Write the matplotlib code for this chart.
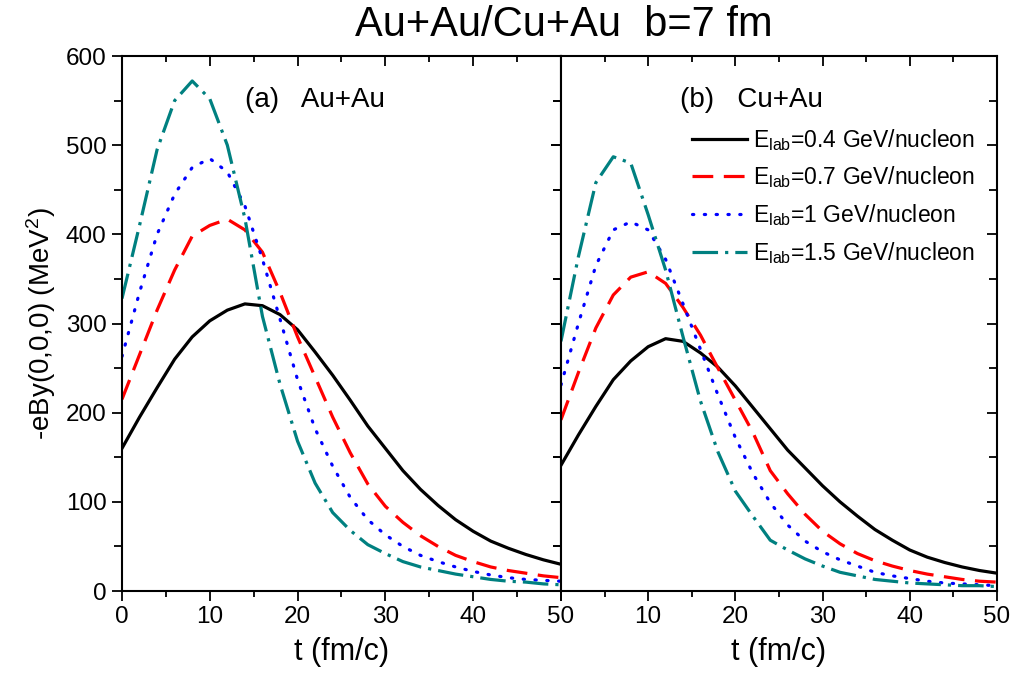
import matplotlib
matplotlib.use("Agg")
from matplotlib import pyplot as plt
from matplotlib.ticker import MultipleLocator

plt.rcParams['font.family'] = ['Liberation Sans', 'DejaVu Sans']
plt.rcParams['mathtext.default'] = 'regular'

t = [0, 2, 4, 6, 8, 10, 12, 14, 16, 18, 20, 22, 24, 26, 28, 30, 32, 34, 36, 38, 40, 42, 44, 46, 48, 50]

# Au+Au
auau_04 = [160, 195, 228, 260, 285, 303, 315, 322, 320, 310, 293, 268, 242, 214, 185, 160, 135, 114, 96, 80, 67, 56, 48, 41, 35, 30]
auau_07 = [215, 265, 315, 360, 398, 410, 417, 405, 380, 335, 285, 240, 195, 155, 120, 95, 77, 62, 50, 40, 33, 27, 23, 20, 17, 15]
auau_10 = [263, 335, 400, 445, 475, 485, 470, 432, 372, 305, 237, 182, 140, 105, 80, 63, 50, 40, 33, 27, 22, 18, 15, 13, 12, 11]
auau_15 = [328, 410, 495, 550, 572, 552, 500, 418, 308, 232, 168, 121, 88, 68, 52, 42, 33, 27, 23, 19, 16, 13, 11, 10, 8, 7]

# Cu+Au
cuau_04 = [141, 175, 207, 237, 258, 274, 283, 280, 267, 251, 230, 206, 182, 158, 138, 118, 100, 84, 69, 57, 46, 38, 32, 27, 23, 20]
cuau_07 = [192, 245, 295, 332, 352, 358, 345, 318, 287, 250, 214, 178, 135, 109, 86, 67, 53, 42, 34, 28, 23, 19, 16, 13, 11, 10]
cuau_10 = [231, 300, 365, 405, 414, 405, 372, 322, 271, 220, 172, 132, 99, 74, 56, 44, 35, 28, 21, 17, 14, 11, 9, 8, 7, 6]
cuau_15 = [280, 375, 458, 487, 480, 422, 360, 285, 213, 156, 112, 84, 57, 46, 36, 28, 21, 17, 13, 11, 9, 8, 7, 6, 6, 5]

labels = [r'E$_{lab}$=0.4 GeV/nucleon', r'E$_{lab}$=0.7 GeV/nucleon',
          r'E$_{lab}$=1 GeV/nucleon', r'E$_{lab}$=1.5 GeV/nucleon']
xticks = [0, 10, 20, 30, 40, 50]
styles = [
    dict(color='black', ls='-'),
    dict(color='#ff0000', ls=(0, (6.5, 3.3))),
    dict(color='#0000ff', ls=(0, (0.4, 3.3)), dash_capstyle='round'),
    dict(color='#008080', ls=(0, (8, 2.2, 1, 2.2))),
]

fig = plt.figure(figsize=(10.19, 6.74), dpi=100)
ax1 = fig.add_axes([0.1197, 0.1231, 0.4308, 0.7938])
ax2 = fig.add_axes([0.5505, 0.1231, 0.4279, 0.7938])

for ax, series in ((ax1, [auau_04, auau_07, auau_10, auau_15]),
                   (ax2, [cuau_04, cuau_07, cuau_10, cuau_15])):
    for y, lab, st in zip(series, labels, styles):
        ax.plot(t, y, lw=2.3, label=lab, **st)
    ax.set_xlim(0, 50)
    ax.set_ylim(0, 600)
    ax.set_xticks(xticks)
    ax.xaxis.set_minor_locator(MultipleLocator(5))
    ax.yaxis.set_major_locator(MultipleLocator(100))
    ax.yaxis.set_minor_locator(MultipleLocator(50))
    # origin style: outward on bottom/left, inward on top/right
    ax.tick_params(which='both', bottom=True, left=True, top=True, right=True,
                   direction='out', width=1.3)
    ax.tick_params(which='major', length=7, labelsize=17.5, pad=4)
    ax.tick_params(axis='x', which='minor', length=4)
    ax.tick_params(axis='y', which='minor', length=6)
    for s in ax.spines.values():
        s.set_linewidth(1.5)
    ax.set_xlabel('t (fm/c)', fontsize=22, labelpad=6)

# secondary ticks point inward
for ax in (ax1, ax2):
    for tk in ax.xaxis.get_major_ticks() + ax.xaxis.get_minor_ticks():
        tk.tick2line.set_marker(3)
    for tk in ax.yaxis.get_major_ticks() + ax.yaxis.get_minor_ticks():
        tk.tick2line.set_marker(0)

ax2.set_xticklabels([''] + [str(v) for v in xticks[1:]])
ax2.tick_params(labelleft=False)
ax1.set_ylabel(r'-eBy(0,0,0) (MeV$^2$)', fontsize=20, labelpad=6)

ax1.text(14, 551, '(a)   Au+Au', fontsize=20, va='center')
ax2.text(13.6, 551, '(b)   Cu+Au', fontsize=20, va='center')

ax2.legend(loc='upper right', bbox_to_anchor=(0.97, 0.885), frameon=False,
           borderaxespad=0, handlelength=2.4, handletextpad=0.25, labelspacing=0.52,
           prop={'size': 16.5})

fig.suptitle('Au+Au/Cu+Au  b=7 fm', x=0.553, y=0.992, fontsize=30)

fig.savefig('out.png', dpi=100)
